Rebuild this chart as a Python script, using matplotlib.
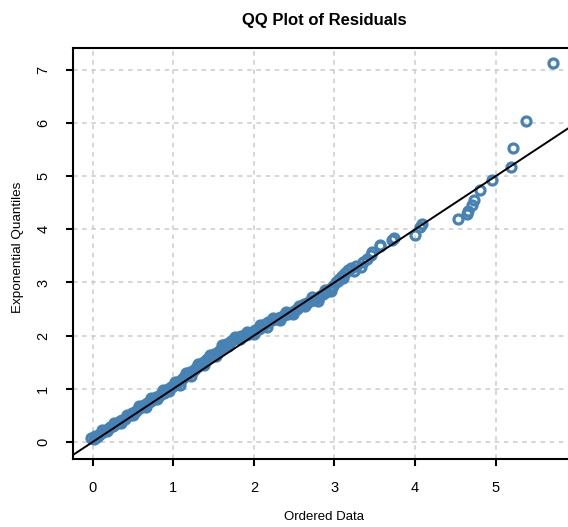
import matplotlib
matplotlib.use("Agg")
import matplotlib.pyplot as plt

plt.rcParams['font.family'] = ['Liberation Sans', 'DejaVu Sans']

# ordered residuals vs exponential quantiles
ordered_data = [
    -0.02, 0.02, 0.05, 0.08, 0.10, 0.13, 0.16, 0.19, 0.22, 0.25,
    0.28, 0.31, 0.34, 0.37, 0.40, 0.43, 0.46, 0.49, 0.52, 0.55,
    0.58, 0.61, 0.64, 0.67, 0.70, 0.73, 0.76, 0.79, 0.82, 0.85,
    0.88, 0.91, 0.94, 0.97, 1.00, 1.03, 1.06, 1.09, 1.12, 1.15,
    1.18, 1.21, 1.24, 1.27, 1.30, 1.33, 1.36, 1.39, 1.42, 1.45,
    1.48, 1.51, 1.54, 1.57, 1.60, 1.63, 1.66, 1.69, 1.72, 1.75,
    1.78, 1.81, 1.84, 1.87, 1.90, 1.94, 1.98, 2.02, 2.06, 2.10,
    2.14, 2.18, 2.22, 2.26, 2.30, 2.34, 2.38, 2.42, 2.46, 2.50,
    2.54, 2.58, 2.62, 2.66, 2.70, 2.74, 2.78, 2.82, 2.86, 2.90,
    2.94, 2.98, 3.02, 3.05, 3.09, 3.13, 3.17, 3.21, 3.27, 3.33,
    3.35, 3.40, 3.45, 3.47, 3.56, 3.57, 3.71, 3.74, 4.00, 4.06,
    4.08, 4.53, 4.64, 4.66, 4.70, 4.73, 4.80, 4.95, 5.19, 5.21,
    5.38, 5.71,
    # second track of the dense band
    0.03, 0.12, 0.18, 0.27, 0.35, 0.42, 0.50, 0.57, 0.66, 0.72,
    0.80, 0.87, 0.95, 1.02, 1.08, 1.16, 1.22, 1.31, 1.38, 1.46,
    1.53, 1.61, 1.68, 1.76, 1.83, 1.92, 2.00, 2.08, 2.16, 2.24,
    2.32, 2.40, 2.48, 2.56, 2.64, 2.72, 2.80, 2.88, 2.96, 3.04,
    3.11, 3.24,
]
exp_quantiles = [
    0.07, 0.06, 0.10, 0.13, 0.16, 0.18, 0.22, 0.25, 0.28, 0.30,
    0.33, 0.36, 0.39, 0.41, 0.44, 0.48, 0.51, 0.54, 0.57, 0.60,
    0.63, 0.66, 0.70, 0.73, 0.75, 0.78, 0.81, 0.84, 0.87, 0.90,
    0.93, 0.96, 0.99, 1.03, 1.06, 1.09, 1.13, 1.17, 1.21, 1.24,
    1.28, 1.31, 1.34, 1.38, 1.41, 1.45, 1.49, 1.52, 1.56, 1.59,
    1.62, 1.65, 1.68, 1.72, 1.76, 1.80, 1.84, 1.87, 1.90, 1.93,
    1.95, 1.97, 1.99, 2.00, 2.01, 2.03, 2.06, 2.10, 2.13, 2.17,
    2.21, 2.25, 2.29, 2.32, 2.34, 2.36, 2.38, 2.40, 2.43, 2.47,
    2.51, 2.55, 2.59, 2.62, 2.65, 2.68, 2.70, 2.74, 2.78, 2.83,
    2.88, 2.93, 3.00, 3.06, 3.12, 3.18, 3.23, 3.27, 3.31, 3.30,
    3.38, 3.45, 3.52, 3.58, 3.68, 3.70, 3.80, 3.84, 3.90, 4.04,
    4.10, 4.19, 4.29, 4.34, 4.45, 4.56, 4.74, 4.93, 5.18, 5.53,
    6.04, 7.13,
    0.12, 0.22, 0.20, 0.36, 0.36, 0.51, 0.50, 0.67, 0.66, 0.82,
    0.80, 0.97, 0.95, 1.13, 1.08, 1.29, 1.25, 1.47, 1.45, 1.64,
    1.62, 1.82, 1.81, 1.98, 1.94, 2.06, 2.04, 2.20, 2.17, 2.34,
    2.30, 2.44, 2.40, 2.56, 2.55, 2.72, 2.66, 2.86, 2.84, 3.03,
    3.08, 3.22,
]
ref_line = [-1, 8]   # y = x reference line
x_ticks = [0, 1, 2, 3, 4, 5]
y_ticks = [0, 1, 2, 3, 4, 5, 6, 7]

fig = plt.figure(figsize=(5.68, 5.27), dpi=100)
# axes runs past the right edge like the reference crop
ax = fig.add_axes([72.5 / 568, 68 / 527, 502.5 / 568, 411.5 / 527])

ax.grid(True, color='#cccccc', linestyle=(0, (3, 3)), linewidth=1.1)
ax.set_axisbelow(True)

ax.plot(ordered_data, exp_quantiles, 'o', markerfacecolor='none',
        markeredgecolor='#4682B4', markersize=6.5, markeredgewidth=2.3,
        zorder=3)
ax.plot(ref_line, ref_line, color='black', linewidth=1.4, zorder=4)

ax.set_xlim(-0.25, 5.984)
ax.set_ylim(-0.32, 7.42)
ax.set_xticks(x_ticks)
ax.set_yticks(y_ticks)
ax.tick_params(length=5, width=1.5, pad=11, labelsize=10.5)
for lbl in ax.get_yticklabels():
    lbl.set_rotation(90)
    lbl.set_va('center')
for s in ax.spines.values():
    s.set_linewidth(1.5)

fig.text(324 / 568, 1 - 21 / 527, 'QQ Plot of Residuals', ha='center',
         va='center', fontsize=12, fontweight='bold')
fig.text(324 / 568, 1 - 517 / 527, 'Ordered Data', ha='center',
         va='center', fontsize=9.5)
fig.text(18 / 568, 1 - 247 / 527, 'Exponential Quantiles', ha='center',
         va='center', fontsize=9.7, rotation=90)

fig.savefig('out.png', dpi=100)
